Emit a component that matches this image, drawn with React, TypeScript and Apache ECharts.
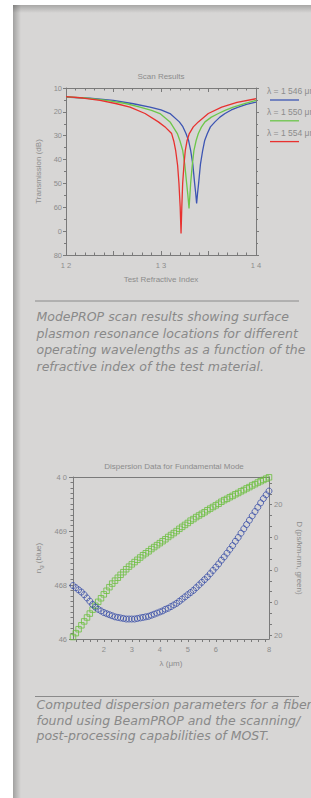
import React, { useEffect, useRef } from "react";
import * as echarts from "echarts";

// ---------- Chart 1 : Scan Results ----------
const scanTitle = "Scan Results";
const scanXName = "Test Refractive Index";
const scanYName = "Transmission (dB)";
const scanXLabelValues = [1.2, 1.3, 1.4];
const scanXLabels = ["1 2", "1 3", "1 4"];
const scanYTickValues = [10, 20, 30, 40, 50, 60, 70, 80];
const scanYLabels = ["10", "20", "30", "40", "50", "60", "0", "80"];
const scanLegend = ["λ = 1 546 μm", "λ = 1 550 μm", "λ = 1 554 μm"];
const scanColors = ["#3d55b3", "#6cc64a", "#e8312f"];

const blueX = [1.2, 1.225, 1.2498, 1.2709, 1.2884, 1.3, 1.3095, 1.3193, 1.323, 1.3263, 1.329, 1.3312, 1.3335, 1.3354, 1.3365, 1.3375, 1.3385, 1.3396, 1.3415, 1.3439, 1.346, 1.3488, 1.352, 1.3568, 1.362, 1.3674, 1.374, 1.3814, 1.39, 1.4];
const blueY = [13.8, 14.3, 15.2, 16.6, 18.0, 19.2, 20.7, 24.2, 26.2, 29.1, 32.0, 36.1, 42.0, 50.0, 54.0, 58.4, 54.0, 50.0, 42.0, 36.1, 32.0, 29.1, 26.3, 24.2, 22.2, 20.7, 19.2, 18.0, 16.9, 15.9];

const greenX = [1.2, 1.22, 1.2428, 1.2639, 1.2779, 1.29, 1.2989, 1.3095, 1.3172, 1.32, 1.3228, 1.325, 1.327, 1.3283, 1.3295, 1.3304, 1.3312, 1.333, 1.3347, 1.337, 1.3393, 1.3425, 1.3463, 1.353, 1.3604, 1.368, 1.3761, 1.388, 1.4];
const greenY = [13.7, 14.2, 15.2, 16.6, 18.0, 19.4, 20.7, 24.2, 29.1, 32.2, 36.1, 42.0, 50.0, 55.0, 60.5, 55.0, 50.0, 42.0, 36.1, 32.0, 29.1, 26.4, 24.2, 22.2, 20.7, 19.3, 18.0, 16.5, 15.2];

const redX = [1.2, 1.218, 1.2358, 1.2533, 1.2674, 1.2832, 1.2972, 1.305, 1.3112, 1.3135, 1.3154, 1.3175, 1.3189, 1.3202, 1.3211, 1.3219, 1.3228, 1.3242, 1.3256, 1.3275, 1.3298, 1.334, 1.3393, 1.3498, 1.3639, 1.38, 1.4];
const redY = [13.6, 14.2, 15.2, 16.6, 18.0, 20.7, 24.2, 26.6, 29.1, 32.3, 36.1, 42.5, 50.0, 60.0, 71.0, 60.0, 50.0, 42.0, 36.1, 32.0, 29.1, 26.3, 24.2, 20.7, 18.0, 16.0, 14.5];

// ---------- Chart 2 : Dispersion ----------
const dispTitle = "Dispersion Data for Fundamental Mode";
const dispXName = "λ (μm)";
const dispRightName = "D (ps/km-nm, green)";
const dispXLabelValues = [2, 3, 4, 5, 6, 7.9];
const dispXLabels = ["2", "3", "4", "5", "6", "8"];
const dispXTickValues = [1, 1.25, 1.5, 1.75, 2, 2.25, 2.5, 2.75, 3, 3.25, 3.5, 3.75, 4, 4.25, 4.5, 4.75, 5, 5.25, 5.5, 5.75, 6, 6.25, 6.5, 6.75, 7, 7.25, 7.5, 7.75];
const dispLeftLabelValues = [4.67, 4.68, 4.69, 4.7];
const dispLeftLabels = ["46", "468", "469", "4 0"];
const dispRightLabelValues = [-20, -10, 0, 10, 20];
const dispRightLabels = ["20", "0", "0", "0", "20"];
const dispRightTickValues = [26.67, 23.33, 20, 16.67, 13.33, 10, 6.67, 3.33, 0, -3.33, -6.67, -10, -13.33, -16.67, -20];

const dispX = [0.9, 1.0, 1.1, 1.2, 1.3, 1.4, 1.5, 1.6, 1.7, 1.8, 1.9, 2.0, 2.1, 2.2, 2.3, 2.4, 2.5, 2.6, 2.7, 2.8, 2.9, 3.0, 3.1, 3.2, 3.3, 3.4, 3.5, 3.6, 3.7, 3.8, 3.9, 4.0, 4.1, 4.2, 4.3, 4.4, 4.5, 4.6, 4.7, 4.8, 4.9, 5.0, 5.1, 5.2, 5.3, 5.4, 5.5, 5.6, 5.7, 5.8, 5.9, 6.0, 6.1, 6.2, 6.3, 6.4, 6.5, 6.6, 6.7, 6.8, 6.9, 7.0, 7.1, 7.2, 7.3, 7.4, 7.5, 7.6, 7.7, 7.8, 7.9];
const dispNg = [4.6799, 4.6795, 4.6791, 4.6787, 4.6782, 4.6776, 4.677, 4.6764, 4.6759, 4.6755, 4.6752, 4.6749, 4.6747, 4.6745, 4.6743, 4.6741, 4.674, 4.6739, 4.6738, 4.6737, 4.6737, 4.6737, 4.6737, 4.6738, 4.6739, 4.674, 4.6741, 4.6742, 4.6744, 4.6746, 4.6748, 4.675, 4.6752, 4.6755, 4.6757, 4.676, 4.6763, 4.6766, 4.677, 4.6774, 4.6778, 4.6782, 4.6786, 4.679, 4.6795, 4.68, 4.6805, 4.681, 4.6815, 4.6821, 4.6827, 4.6833, 4.6839, 4.6846, 4.6852, 4.6859, 4.6866, 4.6873, 4.6881, 4.6888, 4.6896, 4.6904, 4.6912, 4.692, 4.6928, 4.6936, 4.6944, 4.6952, 4.696, 4.6967, 4.6974];
const dispD = [-20.6, -19.4, -18.2, -17.0, -15.8, -14.6, -13.4, -12.2, -11.0, -9.8, -8.7, -7.5, -6.4, -5.3, -4.2, -3.3, -2.4, -1.5, -0.7, 0.2, 1.0, 1.7, 2.4, 3.1, 3.8, 4.5, 5.1, 5.7, 6.4, 7.0, 7.6, 8.2, 8.8, 9.4, 10.1, 10.7, 11.3, 11.9, 12.6, 13.2, 13.8, 14.4, 15.1, 15.6, 16.2, 16.7, 17.2, 17.7, 18.3, 18.8, 19.3, 19.8, 20.3, 20.9, 21.4, 21.8, 22.3, 22.7, 23.2, 23.6, 24.1, 24.5, 25.0, 25.4, 25.9, 26.3, 26.8, 27.2, 27.6, 28.0, 28.4];

// ---------- Captions ----------
const caption1 = [
  "ModePROP scan results showing surface",
  "plasmon resonance locations for different",
  "operating wavelengths as a function of the",
  "refractive index of the test material.",
];
const caption2 = [
  "Computed dispersion parameters for a fiber",
  "found using BeamPROP and the scanning/",
  "post-processing capabilities of MOST.",
];

const FF = '"Liberation Sans", Arial, Helvetica, sans-serif';
const CAPF = '"DejaVu Sans", "Noto Sans", sans-serif';
const AXIS = "#7a7a7a";
const TXT = "#8c8c8c";

function pick(values: number[], labels: string[]) {
  return (v: number) => {
    const i = values.findIndex((x) => Math.abs(x - v) < 1e-6);
    return i >= 0 ? labels[i] : "";
  };
}

const zip = (xs: number[], ys: number[]) => xs.map((x, i) => [x, ys[i]]);

function buildOption(): any {
  const lbl = { color: TXT, fontSize: 7.5, fontFamily: FF };
  const line = { onZero: false, lineStyle: { color: AXIS, width: 1 } };

  const graphic: any[] = [
    { type: "rect", z: -100, shape: { x: 13, y: 5, width: 298, height: 793 }, style: { fill: "#d7d6d5" } },
    {
      type: "rect", z: -99, shape: { x: 13, y: 5, width: 8, height: 793 },
      style: { fill: new echarts.graphic.LinearGradient(0, 0, 1, 0, [{ offset: 0, color: "rgba(0,0,0,0.25)" }, { offset: 1, color: "rgba(0,0,0,0)" }]) },
    },
    {
      type: "rect", z: -99, shape: { x: 13, y: 5, width: 298, height: 8 },
      style: { fill: new echarts.graphic.LinearGradient(0, 0, 0, 1, [{ offset: 0, color: "rgba(0,0,0,0.22)" }, { offset: 1, color: "rgba(0,0,0,0)" }]) },
    },
    // titles
    { type: "text", style: { text: scanTitle, x: 161, y: 76, textAlign: "center", textVerticalAlign: "middle", fill: TXT, font: `8px ${FF}` } },
    { type: "text", style: { text: dispTitle, x: 174, y: 466, textAlign: "center", textVerticalAlign: "middle", fill: TXT, font: `8px ${FF}` } },
    // separators
    { type: "line", shape: { x1: 35, y1: 301, x2: 299, y2: 301 }, style: { stroke: "#8a8a8a", lineWidth: 1 } },
    { type: "line", shape: { x1: 35, y1: 696.5, x2: 299, y2: 696.5 }, style: { stroke: "#8a8a8a", lineWidth: 1 } },
  ];
  scanLegend.forEach((t, i) => {
    graphic.push({ type: "text", style: { text: t, x: 267, y: 91 + i * 21, textVerticalAlign: "middle", fill: TXT, font: `8.5px ${FF}` } });
    graphic.push({ type: "line", shape: { x1: 270, y1: 100 + i * 20.8, x2: 299, y2: 100 + i * 20.8 }, style: { stroke: scanColors[i], lineWidth: 1.3 } });
  });
  const cap1Y = [316.7, 333.2, 349.6, 366];
  caption1.forEach((t, i) => {
    graphic.push({ type: "text", style: { text: t, x: 36.5, y: cap1Y[i], textVerticalAlign: "middle", fill: "#898989", font: `italic 12.5px ${CAPF}` } });
  });
  const cap2Y = [704.5, 720, 735.5];
  caption2.forEach((t, i) => {
    graphic.push({ type: "text", style: { text: t, x: 36.5, y: cap2Y[i], textVerticalAlign: "middle", fill: "#898989", font: `italic 12.5px ${CAPF}` } });
  });

  return {
    animation: false,
    backgroundColor: "#ffffff",
    graphic,
    grid: [
      { left: 66, top: 88, width: 190, height: 167 },
      { left: 73, top: 477, width: 203, height: 162 },
    ],
    xAxis: [
      {
        gridIndex: 0, type: "value", position: "bottom", min: 1.2, max: 1.4, interval: 0.05,
        axisLine: line, splitLine: { show: false },
        axisTick: { inside: true, length: 4, lineStyle: { color: AXIS } },
        minorTick: { show: true, splitNumber: 5, length: 2.5, lineStyle: { color: AXIS } },
        axisLabel: { ...lbl, margin: 6, customValues: scanXLabelValues, formatter: pick(scanXLabelValues, scanXLabels) },
        name: scanXName, nameLocation: "middle", nameGap: 20, nameTextStyle: { ...lbl, fontSize: 8 },
      },
      {
        gridIndex: 0, type: "value", position: "top", min: 1.2, max: 1.4, interval: 0.05,
        axisLine: line, splitLine: { show: false },
        axisTick: { inside: true, length: 4, lineStyle: { color: AXIS } },
        minorTick: { show: true, splitNumber: 5, length: 2.5, lineStyle: { color: AXIS } },
        axisLabel: { show: false },
      },
      {
        gridIndex: 1, type: "value", position: "bottom", min: 0.9, max: 7.9,
        axisLine: line, splitLine: { show: false },
        axisTick: { length: 3, customValues: dispXTickValues, lineStyle: { color: AXIS } },
        axisLabel: { ...lbl, margin: 6, customValues: dispXLabelValues, formatter: pick(dispXLabelValues, dispXLabels) },
        name: dispXName, nameLocation: "middle", nameGap: 20, nameTextStyle: { ...lbl, fontSize: 8 },
      },
      {
        gridIndex: 1, type: "value", position: "top", min: 0.9, max: 7.9,
        axisLine: line, splitLine: { show: false }, axisTick: { show: false }, axisLabel: { show: false },
      },
    ],
    yAxis: [
      {
        gridIndex: 0, type: "value", position: "left", inverse: true, min: 10, max: 80, interval: 10,
        axisLine: { show: true, ...line }, splitLine: { show: false },
        axisTick: { show: true, length: 3, lineStyle: { color: AXIS } },
        minorTick: { show: true, splitNumber: 2, length: 2, lineStyle: { color: AXIS } },
        axisLabel: { ...lbl, margin: 4, formatter: pick(scanYTickValues, scanYLabels) },
        name: scanYName, nameLocation: "middle", nameGap: 22, nameTextStyle: { ...lbl, fontSize: 8 },
      },
      {
        gridIndex: 0, type: "value", position: "right", inverse: true, min: 10, max: 80, interval: 10,
        axisLine: { show: true, ...line }, splitLine: { show: false },
        axisTick: { show: true, length: 3, lineStyle: { color: AXIS } },
        minorTick: { show: true, splitNumber: 2, length: 2, lineStyle: { color: AXIS } },
        axisLabel: { show: false },
      },
      {
        gridIndex: 1, type: "value", position: "left", min: 4.67, max: 4.7, interval: 0.01,
        axisLine: { show: true, ...line }, splitLine: { show: false },
        axisTick: { show: true, length: 4, lineStyle: { color: AXIS } },
        minorTick: { show: true, splitNumber: 10, length: 2.5, lineStyle: { color: AXIS } },
        axisLabel: { ...lbl, margin: 6, customValues: dispLeftLabelValues, formatter: pick(dispLeftLabelValues, dispLeftLabels) },
        name: "{n|n}{s|g}{n| (blue)}", nameLocation: "middle", nameGap: 27,
        nameTextStyle: { ...lbl, fontSize: 8, rich: { n: { color: TXT, fontSize: 8, fontFamily: FF }, s: { color: TXT, fontSize: 6, fontFamily: FF, verticalAlign: "bottom", padding: [4, 0, 0, 0] } } },
      },
      {
        gridIndex: 1, type: "value", position: "right", min: -21.2, max: 28.5,
        axisLine: { show: true, ...line }, splitLine: { show: false },
        axisTick: { show: true, length: 3, customValues: dispRightTickValues, lineStyle: { color: AXIS } },
        axisLabel: { ...lbl, margin: 5, customValues: dispRightLabelValues, formatter: pick(dispRightLabelValues, dispRightLabels) },
        name: dispRightName, nameLocation: "middle", nameRotate: -90, nameGap: 26, nameTextStyle: { ...lbl, fontSize: 8 },
      },
    ],
    series: [
      { type: "line", xAxisIndex: 0, yAxisIndex: 0, data: zip(blueX, blueY), showSymbol: false, symbol: "none", lineStyle: { color: scanColors[0], width: 1.3 } },
      { type: "line", xAxisIndex: 0, yAxisIndex: 0, data: zip(greenX, greenY), showSymbol: false, symbol: "none", lineStyle: { color: scanColors[1], width: 1.3 } },
      { type: "line", xAxisIndex: 0, yAxisIndex: 0, data: zip(redX, redY), showSymbol: false, symbol: "none", lineStyle: { color: scanColors[2], width: 1.3 } },
      {
        type: "scatter", xAxisIndex: 2, yAxisIndex: 3, data: zip(dispX, dispD), symbol: "rect", symbolSize: 5.5,
        itemStyle: { color: "rgba(0,0,0,0)", borderColor: "#6bbf3e", borderWidth: 1 },
      },
      {
        type: "scatter", xAxisIndex: 2, yAxisIndex: 2, data: zip(dispX, dispNg), symbol: "circle", symbolSize: 6,
        itemStyle: { color: "rgba(0,0,0,0)", borderColor: "#3a4fa8", borderWidth: 1 },
      },
    ],
  };
}

export default function App() {
  const ref = useRef<HTMLDivElement>(null);
  useEffect(() => {
    const chart = echarts.init(ref.current!, null, { renderer: "svg", width: 311, height: 798 });
    chart.setOption(buildOption());
    return () => chart.dispose();
  }, []);
  return (
    <div
      ref={ref}
      style={{ position: "fixed", left: 0, top: 0, width: 311, height: 798, overflow: "hidden", background: "#fff" }}
    />
  );
}
